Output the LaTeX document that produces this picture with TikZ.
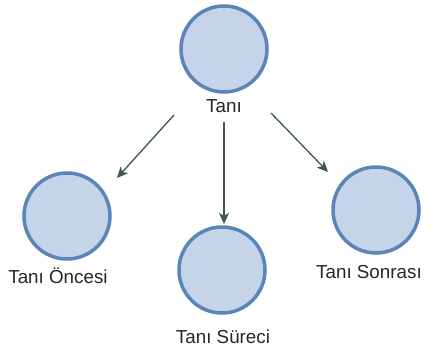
\documentclass[tikz,border=0pt]{standalone}
\usepackage{fontspec}
\setmainfont{Liberation Sans}
\usepackage{tikz}
\usetikzlibrary{arrows.meta}

\definecolor{stagefill}{HTML}{C6D4EA}
\definecolor{stageline}{HTML}{5A85B6}
\definecolor{flowline}{HTML}{3E5850}

\tikzset{
  stage/.style={circle, fill=stagefill, draw=stageline, line width=3.5pt, minimum size=86pt, inner sep=0pt},
  stagename/.style={font=\fontsize{18.8}{21}\selectfont, text=black!85, inner sep=0pt},
  flow/.style={-{Stealth[length=11pt,width=10pt,inset=3pt]}, flowline, line width=1.3pt}
}

\begin{document}
\begin{tikzpicture}[x=1pt,y=-1pt]
    \useasboundingbox (0,0) rectangle (434,354);
    \fill[white] (0,0) rectangle (434,354);
    \node[stage] (tani) at (224,49) {};
    \node[stage] (once) at (67,216) {};
    \node[stage] (surec) at (222,270) {};
    \node[stage] (sonra) at (376,210) {};
    \node[stagename] (taniT) at (224,106) {Tanı};
    \node[stagename] (onceT) at (58,276) {Tanı Öncesi};
    \node[stagename] (surecT) at (223,337) {Tanı Süreci};
    \node[stagename, anchor=west] (sonraT) at (316,272) {Tanı Sonrası};
    % arrow ends
    \coordinate (a1) at (174,115);
    \coordinate (a2) at (224,122);
    \coordinate (a3) at (271,113);
    \coordinate (b1) at (117,178);
    \coordinate (b2) at (224,224);
    \coordinate (b3) at (328,172);
    \draw[flow] (a1) -- (b1);
    \draw[flow] (a2) -- (b2);
    \draw[flow] (a3) -- (b3);
  \end{tikzpicture}
\end{document}
